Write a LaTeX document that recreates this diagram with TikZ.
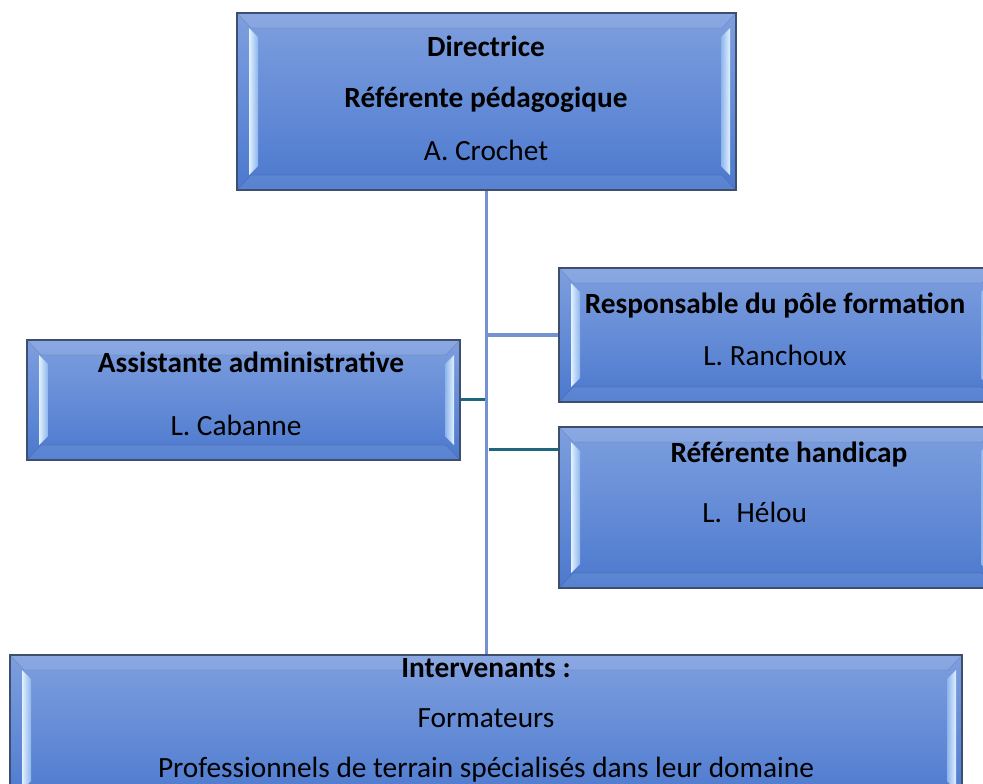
\documentclass[tikz,border=0pt]{standalone}
\usepackage{fontspec}
\setmainfont{Carlito}
\usetikzlibrary{fit}
\definecolor{faceTop}{HTML}{7E9FDF}
\definecolor{faceBot}{HTML}{4C79CE}
\definecolor{hlOut}{HTML}{E2F2FF}
\definecolor{hlIn}{HTML}{8DB4EC}
\definecolor{boxEdge}{HTML}{3E4E6E}
\definecolor{trunkCol}{HTML}{7592D0}
\definecolor{tealCol}{HTML}{1F6780}
\tikzset{
  txt/.style={anchor=base, inner sep=0pt, text=black, font=\fontsize{22}{26}\selectfont},
  btxt/.style={txt, font=\fontsize{22}{26}\selectfont\bfseries},
  trunk/.style={draw=trunkCol, line width=2.5pt},
  tealline/.style={draw=tealCol, line width=2.8pt},
  boxline/.style={draw=boxEdge, line width=1.1pt},
  frame/.style={inner sep=0pt, outer sep=0pt}
}
\newcommand{\bevelbox}[5]{%
  \node[frame, fit={(#2,#3) (#4,#5)}] (#1) {};
  \shade[top color=faceTop, bottom color=faceBot] (#2,#3) rectangle (#4,#5);
  \fill[white, opacity=0.10] (#2,#3) -- (#4,#3) -- ({#4-14},{#3+15}) -- ({#2+14},{#3+15}) -- cycle;
  \fill[white, opacity=0.07] (#2,#5) -- (#4,#5) -- ({#4-14},{#5-15}) -- ({#2+14},{#5-15}) -- cycle;
  \draw[black, opacity=0.10, line width=0.6pt] (#2,#3) -- ({#2+14},{#3+15}) -- ({#4-14},{#3+15}) -- (#4,#3);
  \draw[black, opacity=0.10, line width=0.6pt] (#2,#5) -- ({#2+14},{#5-15}) -- ({#4-14},{#5-15}) -- (#4,#5);
  \shade[left color=hlOut, right color=hlIn] ({#2+12},{#3+15}) -- ({#2+21},{#3+24}) -- ({#2+21},{#5-24}) -- ({#2+12},{#5-15}) -- cycle;
  \shade[left color=hlIn, right color=hlOut] ({#4-15},{#3+24}) -- ({#4-6},{#3+15}) -- ({#4-6},{#5-15}) -- ({#4-15},{#5-24}) -- cycle;
  \draw[boxline] (#2,#3) rectangle (#4,#5);
}
\begin{document}
\begin{tikzpicture}[x=0.75pt, y=-0.75pt]
\useasboundingbox (0,0) rectangle (983,783);
\clip (0,0) rectangle (983,783);

% coordinates for connectors
\coordinate (trunkTop) at (486.5,190);
\coordinate (trunkBot) at (486.5,655);
\coordinate (respJ) at (486.5,335);
\coordinate (asstJ) at (484.5,399.5);
\coordinate (handJ) at (488.5,449.5);

% connectors
\draw[trunk] (trunkTop) -- (trunkBot);
\draw[trunk] (respJ) -- (559,335);
\draw[tealline] (460,399.5) -- (asstJ);
\draw[tealline] (handJ) -- (559,449.5);

% boxes
\bevelbox{top}{237}{13}{736}{190}
\bevelbox{resp}{559}{268}{996}{402}
\bevelbox{asst}{27}{340}{460}{460}
\bevelbox{hand}{559}{427}{996}{588}
\bevelbox{inter}{10}{655}{962}{805}

% texts
\node[btxt] (t1) at (486,56.5) {Directrice};
\node[btxt] (t2) at (486,107.5) {Référente pédagogique};
\node[txt] (t3) at (486,160) {A. Crochet};

\node[btxt] (r1) at (775,313) {Responsable du pôle formation};
\node[txt] (r2) at (775,365) {L. Ranchoux};

\node[btxt] (a1) at (251,372.5) {Assistante administrative};
\node[txt] (a2) at (236,435) {L. Cabanne};

\node[btxt] (h1) at (789,462) {Référente handicap};
\node[txt, anchor=base west] (h2) at (702,522) {L.\hspace{11pt}Hélou};

\node[btxt] (i1) at (486,677) {Intervenants :};
\node[txt] (i2) at (486,727.5) {Formateurs};
\node[txt] (i3) at (486,777) {Professionnels de terrain spécialisés dans leur domaine};
\end{tikzpicture}
\end{document}
